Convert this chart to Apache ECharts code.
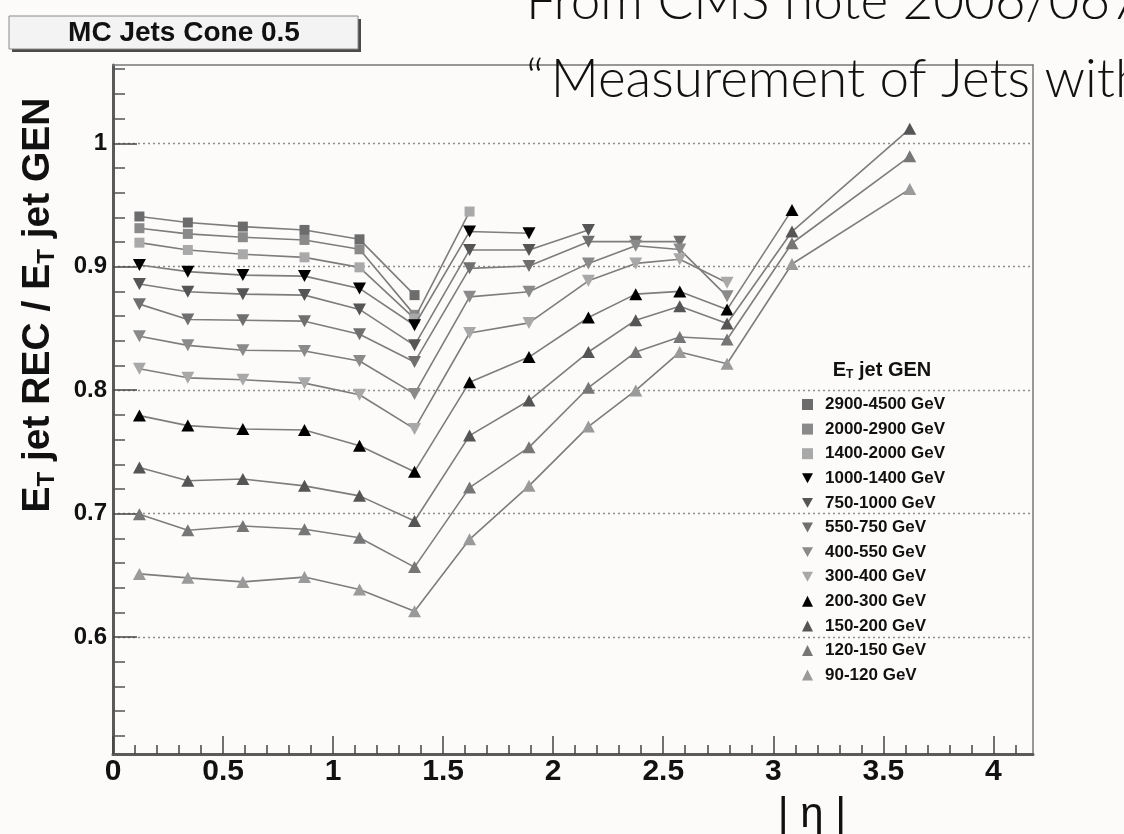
<!DOCTYPE html>
<html>
<head>
<meta charset="utf-8">
<title>MC Jets Cone 0.5 – jet response vs |eta|</title>
<script src="https://cdn.jsdelivr.net/npm/echarts@6/dist/echarts.min.js"></script>
<style>
  html, body { margin: 0; padding: 0; background: #fdfbfa; }
  #chart { width: 1124px; height: 834px; }
</style>
</head>
<body>
<div id="chart"></div>
<script>
// |eta| bin positions of the measured points
const ETA = [0.12, 0.34, 0.59, 0.87, 1.12, 1.37, 1.62, 1.89, 2.16, 2.375, 2.575, 2.79, 3.085, 3.62];

// Generated-jet E_T bins (legend order)
const BIN_LABELS = [
  '2900-4500 GeV', '2000-2900 GeV', '1400-2000 GeV', '1000-1400 GeV',
  '750-1000 GeV', '550-750 GeV', '400-550 GeV', '300-400 GeV',
  '200-300 GeV', '150-200 GeV', '120-150 GeV', '90-120 GeV'
];

// E_T(REC)/E_T(GEN) per bin, one value per ETA entry (null = no point)
const R_2900_4500 = [0.9407, 0.9358, 0.9325, 0.9298, 0.9222, 0.8770];
const R_2000_2900 = [0.9312, 0.9266, 0.9239, 0.9217, 0.9141, 0.8610];
const R_1400_2000 = [0.9195, 0.9136, 0.9101, 0.9076, 0.8995, 0.8580, 0.9447];
const R_1000_1400 = [0.9014, 0.8960, 0.8932, 0.8924, 0.8824, 0.8526, 0.9285, 0.9271];
const R_750_1000  = [0.8860, 0.8797, 0.8778, 0.8770, 0.8654, 0.8363, 0.9136, 0.9136, 0.9298];
const R_550_750   = [0.8697, 0.8572, 0.8567, 0.8559, 0.8453, 0.8228, 0.8987, 0.9006, 0.9203, 0.9203, 0.9203];
const R_400_550   = [0.8437, 0.8363, 0.8323, 0.8317, 0.8236, 0.7970, 0.8756, 0.8797, 0.9027, 0.9170, 0.9140, 0.8760];
const R_300_400   = [0.8174, 0.8100, 0.8085, 0.8057, 0.7963, 0.7686, 0.8463, 0.8545, 0.8886, 0.9027, 0.9060, 0.8870];
const R_200_300   = [0.7794, 0.7713, 0.7686, 0.7678, 0.7550, 0.7340, 0.8065, 0.8268, 0.8589, 0.8778, 0.8800, 0.8653, 0.9460];
const R_150_200   = [0.7374, 0.7266, 0.7280, 0.7225, 0.7144, 0.6940, 0.7632, 0.7916, 0.8309, 0.8567, 0.8680, 0.8540, 0.9285, 1.0117];
const R_120_150   = [0.6995, 0.6865, 0.6900, 0.6873, 0.6805, 0.6567, 0.7211, 0.7537, 0.8020, 0.8309, 0.8431, 0.8410, 0.9190, 0.9894];
const R_90_120    = [0.6512, 0.6480, 0.6447, 0.6486, 0.6385, 0.6210, 0.6792, 0.7225, 0.7705, 0.7998, 0.8309, 0.8214, 0.9022, 0.9629];

// Axis tick labels
const X_TICKS = [0, 0.5, 1, 1.5, 2, 2.5, 3, 3.5, 4];
const Y_TICKS = [0.6, 0.7, 0.8, 0.9, 1.0];

const X_RANGE = [0, 4.18];
const Y_RANGE = [0.5053, 1.0634];

const RESPONSES = [
  R_2900_4500, R_2000_2900, R_1400_2000, R_1000_1400, R_750_1000, R_550_750,
  R_400_550, R_300_400, R_200_300, R_150_200, R_120_150, R_90_120
];

// marker look per bin: shape and grey level
const SQUARE = 'rect';
const TRI_UP = 'triangle';
const TRI_DOWN = 'path://M0,0L10,0L5,9Z';
const MARKERS = [
  { shape: SQUARE,   color: '#6c6c6c' },
  { shape: SQUARE,   color: '#8a8a8a' },
  { shape: SQUARE,   color: '#a9a9a9' },
  { shape: TRI_DOWN, color: '#000000' },
  { shape: TRI_DOWN, color: '#555555' },
  { shape: TRI_DOWN, color: '#6f6f6f' },
  { shape: TRI_DOWN, color: '#8a8a8a' },
  { shape: TRI_DOWN, color: '#a8a8a8' },
  { shape: TRI_UP,   color: '#000000' },
  { shape: TRI_UP,   color: '#555555' },
  { shape: TRI_UP,   color: '#767676' },
  { shape: TRI_UP,   color: '#9a9a9a' }
];

// minor tick positions between the labelled ticks
function minorTicks(lo, hi, step, skipEvery) {
  const out = [];
  const n = Math.round((hi - lo) / step);
  for (let k = 0; k <= n; k++) {
    if (k % skipEvery === 0) continue;
    out.push(+(lo + k * step).toFixed(4));
  }
  return out;
}
const X_MINOR = minorTicks(0, 4.1, 0.1, 5);
const Y_MINOR = minorTicks(0.5, 1.06, 0.02, 5).filter(v => v > Y_RANGE[0]);

const FONT = "'Liberation Sans', Arial, Helvetica, sans-serif";
const HEAD_FONT = "Lato, 'Liberation Sans', sans-serif";
const AXIS_COLOR = '#5a5a5a';

function toPoints(values) {
  const pts = [];
  values.forEach((v, i) => { if (v != null) pts.push([ETA[i], v]); });
  return pts;
}

const series = BIN_LABELS.map((name, i) => ({
  name: name,
  type: 'line',
  data: toPoints(RESPONSES[i]),
  symbol: MARKERS[i].shape,
  symbolSize: MARKERS[i].shape === SQUARE ? 10 : [13, 12],
  itemStyle: { color: MARKERS[i].color },
  lineStyle: { color: '#7d7d7d', width: 1.6 },
  z: 3 + i,
  silent: true,
  animation: false
}));

const chart = echarts.init(document.getElementById('chart'), null, { renderer: 'canvas' });

chart.setOption({
  backgroundColor: '#fdfbfa',
  animation: false,
  grid: { left: 113, right: 91, top: 65, bottom: 80, containLabel: false },
  xAxis: [
    {
      type: 'value', min: X_RANGE[0], max: X_RANGE[1], position: 'bottom', z: 5,
      axisLine: { show: true, onZero: false, lineStyle: { color: AXIS_COLOR, width: 3 } },
      axisTick: { show: true, inside: true, length: 18, customValues: X_TICKS,
                  lineStyle: { color: '#444', width: 1.5 } },
      axisLabel: { show: true, customValues: X_TICKS, margin: 3,
                   fontFamily: FONT, fontWeight: 'bold', fontSize: 30, color: '#111',
                   formatter: v => String(+v.toFixed(1)) },
      splitLine: { show: false }
    },
    {
      type: 'value', min: X_RANGE[0], max: X_RANGE[1], position: 'bottom', z: 5,
      axisLine: { show: false },
      axisTick: { show: true, inside: true, length: 9, customValues: X_MINOR,
                  lineStyle: { color: '#444', width: 1.5 } },
      axisLabel: { show: false },
      splitLine: { show: false }
    },
    {
      type: 'value', min: X_RANGE[0], max: X_RANGE[1], position: 'top', z: 5,
      axisLine: { show: true, onZero: false, lineStyle: { color: '#777', width: 1.5 } },
      axisTick: { show: false }, axisLabel: { show: false }, splitLine: { show: false }
    }
  ],
  yAxis: [
    {
      type: 'value', min: Y_RANGE[0], max: Y_RANGE[1], position: 'left', z: 2,
      minInterval: 0.1, maxInterval: 0.1,
      axisLine: { show: true, onZero: false, lineStyle: { color: AXIS_COLOR, width: 3 } },
      axisTick: { show: true, inside: true, length: 24, customValues: Y_TICKS,
                  lineStyle: { color: '#444', width: 1.5 } },
      axisLabel: { show: true, customValues: Y_TICKS, margin: 6,
                   fontFamily: FONT, fontWeight: 'bold', fontSize: 24, color: '#111',
                   formatter: v => (Math.abs(v - 1) < 1e-6 ? '1' : v.toFixed(1)) },
      splitLine: { show: true, lineStyle: { color: '#8c8c8c', width: 1.3, type: [2, 3] } }
    },
    {
      type: 'value', min: Y_RANGE[0], max: Y_RANGE[1], position: 'left', z: 2,
      axisLine: { show: false },
      axisTick: { show: true, inside: true, length: 12, customValues: Y_MINOR,
                  lineStyle: { color: '#555', width: 1.5 } },
      axisLabel: { show: false }, splitLine: { show: false }
    },
    {
      type: 'value', min: Y_RANGE[0], max: Y_RANGE[1], position: 'right', z: 5,
      axisLine: { show: true, onZero: false, lineStyle: { color: '#777', width: 1.5 } },
      axisTick: { show: false }, axisLabel: { show: false }, splitLine: { show: false }
    }
  ],
  legend: {
    orient: 'vertical',
    left: 797, top: 391,
    itemWidth: 11, itemHeight: 11, itemGap: 7.6,
    selectedMode: false,
    textStyle: { fontFamily: FONT, fontWeight: 'bold', fontSize: 17, lineHeight: 17,
                 color: '#111', padding: [0, 0, 0, 7] },
    data: BIN_LABELS.map((name, i) => ({
      name: name,
      icon: MARKERS[i].shape,
      itemStyle: { color: MARKERS[i].color, borderWidth: 0 }
    }))
  },
  graphic: [
    // label box, top left
    { type: 'rect', shape: { x: 12, y: 19, width: 349, height: 33 }, style: { fill: '#4a4a4a' }, z: 10 },
    { type: 'rect', shape: { x: 9, y: 16, width: 349, height: 33 },
      style: { fill: '#f3f3f3', stroke: '#8a8a8a', lineWidth: 1 }, z: 11 },
    { type: 'text', x: 184, y: 33, z: 12,
      style: { text: 'MC Jets Cone 0.5', fontFamily: FONT, fontWeight: 'bold', fontSize: 28,
               fill: '#111', align: 'center', verticalAlign: 'middle' } },
    // heading lines, top right
    { type: 'text', x: 526, y: 28, z: 12,
      style: { text: 'From CMS note 2006/067', fontFamily: HEAD_FONT, fontWeight: 300,
               fontSize: 53, fill: '#111', align: 'left', verticalAlign: 'bottom' } },
    { type: 'text', x: 526, y: 106, z: 12,
      style: { text: '\u201C\u2009Measurement of Jets with', fontFamily: HEAD_FONT, fontWeight: 300,
               fontSize: 53, fill: '#111', align: 'left', verticalAlign: 'bottom' } },
    // y axis title
    { type: 'text', x: 38, y: 305, rotation: Math.PI / 2, z: 12,
      style: {
        text: '{e|E}{t|T}{n| jet REC / }{e|E}{t|T}{n| jet GEN}',
        align: 'center', verticalAlign: 'middle',
        rich: {
          e: { fontFamily: FONT, fontWeight: 'bold', fontSize: 39, lineHeight: 42, fill: '#111' },
          n: { fontFamily: FONT, fontWeight: 'bold', fontSize: 39, lineHeight: 42, fill: '#111' },
          t: { fontFamily: FONT, fontWeight: 'bold', fontSize: 24, lineHeight: 24, fill: '#111',
               verticalAlign: 'bottom' }
        }
      } },
    // legend heading
    { type: 'text', x: 882, y: 370, z: 12,
      style: {
        text: '{e|E}{t|T}{n| jet GEN}',
        align: 'center', verticalAlign: 'middle',
        rich: {
          e: { fontFamily: FONT, fontWeight: 'bold', fontSize: 20, lineHeight: 22, fill: '#111' },
          n: { fontFamily: FONT, fontWeight: 'bold', fontSize: 20, lineHeight: 22, fill: '#111' },
          t: { fontFamily: FONT, fontWeight: 'bold', fontSize: 12, lineHeight: 12, fill: '#111',
               verticalAlign: 'bottom' }
        }
      } },
    // x axis title
    { type: 'text', x: 812, y: 815, z: 12,
      style: { text: '| \u03B7 |', fontFamily: FONT, fontSize: 42, fill: '#111',
               align: 'center', verticalAlign: 'middle' } }
  ],
  series: series
});
</script>
</body>
</html>
